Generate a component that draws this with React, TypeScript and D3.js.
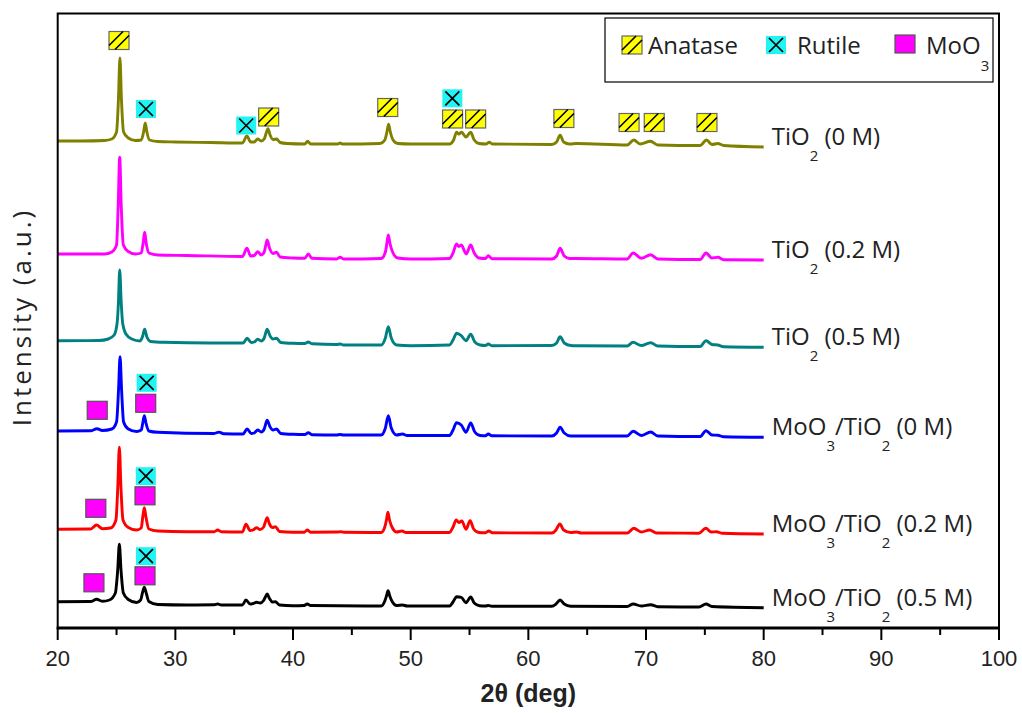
import React from "react";
import * as d3 from "d3";

// ---------- DATA (2θ in degrees, intensity in arbitrary units with stacking offset) ----------
const tio2_0M: [number, number][] = [
  [20, 487], [22, 487], [24, 487.5], [24.6, 489], [25.0, 496], [25.16, 528], [25.29, 570], [25.42, 528], [25.6, 496], [26.0, 490], [26.6, 487.5],
  [27.1, 488], [27.3, 496], [27.44, 505], [27.58, 496], [27.8, 488], [28.5, 486.5], [30, 486], [33, 485.5], [35.7, 485], [36.08, 492], [36.4, 486],
  [36.7, 486], [37.0, 489], [37.3, 487], [37.55, 489], [37.72, 495], [37.87, 499.3], [38.05, 493], [38.3, 488.5], [38.6, 489], [38.9, 485.5],
  [39.5, 484.5], [41.0, 484], [41.24, 486.7], [41.5, 484], [43.8, 484], [44.0, 485], [44.2, 484], [47.4, 484.5], [47.8, 488], [47.98, 496],
  [48.12, 503.7], [48.27, 496], [48.5, 488], [48.9, 484.5], [50, 484], [53.3, 484], [53.65, 488], [53.9, 495.7], [54.1, 494], [54.33, 495.7],
  [54.7, 491], [55.09, 495.7], [55.4, 488], [55.8, 484.5], [56.4, 484], [56.67, 485.7], [56.95, 484], [62.0, 483.5], [62.4, 486], [62.7, 492.7],
  [63.0, 486], [63.5, 484], [64.1, 484.5], [68.4, 483], [68.96, 488], [69.5, 484], [70.38, 486.7], [71, 483], [74.6, 482.5], [75.14, 488],
  [75.6, 483.5], [76.1, 484.5], [76.6, 482.5], [80, 481],
];
const tio2_02M: [number, number][] = [
  [20, 374], [24, 374], [24.6, 376], [25.0, 383], [25.14, 422], [25.27, 470.7], [25.4, 422], [25.58, 383], [26.0, 376.5], [26.6, 374],
  [27.1, 375], [27.26, 385], [27.39, 395.7], [27.52, 385], [27.75, 375], [28.5, 373], [31, 372.5], [35.7, 371.5], [36.08, 379.7], [36.4, 372],
  [36.7, 372.5], [37.0, 376.3], [37.3, 373], [37.55, 376], [37.67, 382], [37.8, 388], [38.0, 380], [38.3, 374.5], [38.6, 375.7], [38.9, 371],
  [40, 370], [41.0, 369.7], [41.3, 374], [41.6, 369.7], [43.7, 369], [44.0, 370.7], [44.3, 369], [47.5, 369.5], [47.85, 376], [47.98, 385],
  [48.1, 393], [48.23, 385], [48.5, 375], [48.9, 370], [50, 369], [53.3, 369.5], [53.6, 375], [53.9, 384], [54.1, 381.5], [54.3, 383],
  [54.72, 374], [55.1, 383], [55.4, 375], [55.8, 370], [56.35, 369.5], [56.6, 372.3], [56.9, 369.3], [62.0, 369], [62.4, 372], [62.7, 379.7],
  [63.05, 372], [63.5, 369.5], [64.1, 369.5], [68.4, 369], [68.9, 375], [69.6, 369.7], [70.4, 373.3], [71, 369], [74.6, 368.5], [75.1, 375],
  [75.6, 370], [76.1, 370.7], [76.6, 368.3], [80, 368],
];
const tio2_05M: [number, number][] = [
  [20, 287.3], [23.5, 287.5], [24.3, 289], [24.8, 293], [25.05, 305], [25.16, 325], [25.27, 358], [25.4, 325], [25.52, 305], [25.8, 294],
  [26.3, 289], [27.0, 287], [27.2, 291], [27.39, 298.7], [27.58, 291], [27.9, 286.5], [29, 285.7], [33, 285], [35.75, 285], [36.1, 289.7],
  [36.45, 285.5], [36.7, 286], [37.0, 288.7], [37.3, 287], [37.55, 290], [37.8, 298.7], [38.05, 292], [38.3, 289], [38.6, 289.7], [38.95, 285.5],
  [40, 284.7], [41.0, 284.5], [41.3, 286], [41.6, 284.3], [43.7, 283.5], [44, 284], [44.3, 283], [47.5, 283], [47.85, 290], [48.1, 301.3],
  [48.35, 290], [48.8, 283], [50, 282.3], [53.3, 283], [53.6, 288], [53.9, 294.7], [54.3, 292.3], [54.7, 287.3], [55.1, 293.7], [55.45, 286],
  [55.9, 283], [56.35, 282.5], [56.6, 284], [56.9, 282.3], [62.0, 282.5], [62.4, 285], [62.7, 291.3], [63.05, 285], [63.6, 282.5], [64.1, 282.3],
  [68.4, 282], [68.9, 285.7], [69.6, 282.5], [70.4, 285.3], [71, 282], [74.6, 281.5], [75.1, 287.3], [75.6, 283.5], [76.1, 283], [76.6, 281.3],
  [80, 280.7],
];
const moo3_0M: [number, number][] = [
  [20, 197], [22.8, 197.2], [23.34, 199.3], [23.8, 197.5], [24.6, 199], [25.0, 206], [25.17, 238], [25.3, 271.3], [25.43, 238], [25.6, 206],
  [26.0, 199], [26.7, 196.5], [27.1, 198], [27.23, 205], [27.36, 212.3], [27.5, 205], [27.75, 197], [28.5, 195.7], [33.3, 194.5], [33.7, 195.9],
  [34.1, 194.3], [35.75, 194], [36.1, 199], [36.45, 194.5], [36.7, 195], [37.0, 198], [37.3, 196], [37.55, 199], [37.8, 207.7], [38.05, 201],
  [38.3, 198], [38.6, 199], [38.95, 194.5], [40, 193.7], [41.0, 193.5], [41.3, 195.3], [41.6, 193.3], [43.7, 193], [44, 193.5], [44.3, 193],
  [47.5, 193], [47.85, 200], [48.1, 212.3], [48.35, 200], [48.8, 193], [49.3, 194], [49.7, 192.5], [53.3, 192.5], [53.6, 198], [53.9, 205.3],
  [54.3, 203], [54.7, 195.7], [55.1, 205], [55.45, 196], [55.9, 192.5], [56.35, 192.3], [56.6, 194], [56.9, 192.2], [62.0, 192], [62.4, 195],
  [62.7, 200.7], [63.05, 195], [63.6, 192], [68.4, 192], [68.9, 196.7], [69.6, 192.5], [70.4, 196], [71, 192], [74.6, 191.5], [75.1, 197.3],
  [75.6, 193], [76.1, 192.8], [76.6, 191.2], [80, 190.7],
];
const moo3_02M: [number, number][] = [
  [20, 98.7], [22.8, 99], [23.3, 103], [23.8, 99.3], [24.5, 100], [24.95, 108], [25.11, 142], [25.24, 180.7], [25.37, 142], [25.55, 108],
  [26.0, 100.5], [26.7, 98], [27.1, 100], [27.23, 111], [27.36, 120.3], [27.5, 111], [27.75, 99], [28.5, 97], [31, 96.3], [33.3, 96.3],
  [33.6, 98], [33.9, 96.3], [35.7, 96], [36.0, 103.7], [36.35, 97.5], [36.6, 98], [36.9, 100.3], [37.2, 98.5], [37.5, 101], [37.65, 106],
  [37.8, 110.3], [38.0, 104], [38.25, 100.5], [38.5, 101.3], [38.85, 96.5], [40, 95.7], [40.95, 95.8], [41.2, 98], [41.5, 95.8], [43.8, 96],
  [44.05, 96.3], [44.3, 95.8], [47.5, 95.5], [47.8, 101], [47.94, 108], [48.06, 115.7], [48.2, 108], [48.45, 100], [48.8, 96], [49.25, 97],
  [49.6, 95.5], [53.3, 95.5], [53.6, 101], [53.87, 108], [54.1, 105.5], [54.35, 107], [54.7, 98.7], [55.05, 107.3], [55.35, 99], [55.8, 95.5],
  [56.35, 95.3], [56.64, 97], [56.95, 95.2], [62.0, 95], [62.35, 98], [62.68, 104], [63.0, 98], [63.6, 95.5], [64.1, 96], [64.5, 95],
  [68.4, 95], [68.96, 99.7], [69.6, 96], [70.3, 98], [70.9, 95], [74.5, 94.8], [75.08, 99.7], [75.55, 96], [75.97, 96.3], [76.5, 94.7],
  [80, 94],
];
const moo3_05M: [number, number][] = [
  [20, 26.3], [22.8, 26.5], [23.3, 28.7], [23.8, 26.7], [24.4, 28], [24.9, 35], [25.1, 58], [25.24, 83.7], [25.38, 58], [25.58, 35],
  [26.0, 28.5], [26.7, 25.5], [27.05, 28], [27.2, 35], [27.36, 40.7], [27.52, 35], [27.75, 26.5], [28.5, 23.5], [31, 23], [33.3, 23.2],
  [33.6, 24], [33.9, 23], [35.7, 23], [36.0, 28], [36.35, 24], [36.6, 24.5], [36.9, 25.7], [37.2, 25], [37.5, 27.5], [37.65, 31], [37.8, 34],
  [38.0, 29.5], [38.25, 26], [38.5, 26.3], [38.85, 23], [40, 22.3], [40.95, 22.5], [41.2, 24], [41.5, 22.5], [47.5, 22], [47.8, 27],
  [47.94, 32], [48.08, 37.3], [48.22, 32], [48.45, 26], [48.8, 22.5], [49.3, 23], [49.7, 22], [53.3, 22], [53.6, 26], [53.9, 31.3],
  [54.3, 30.7], [54.7, 25.3], [55.1, 31], [55.4, 25], [55.85, 22.3], [56.35, 22], [56.6, 22.5], [56.9, 21.8], [62.0, 21.8], [62.35, 24],
  [62.7, 28], [63.05, 24], [63.6, 21.8], [68.4, 21.5], [68.9, 24], [69.6, 22], [70.4, 23.3], [71, 21.3], [74.5, 21], [75.1, 24],
  [75.6, 21.5], [80, 20.3],
];

const seriesNames = ["TiO2 (0 M)", "TiO2 (0.2 M)", "TiO2 (0.5 M)", "MoO3/TiO2 (0 M)", "MoO3/TiO2 (0.2 M)", "MoO3/TiO2 (0.5 M)"];
const seriesColors = ["#808000", "#ff00ff", "#008080", "#0000ff", "#ff0000", "#000000"];
const seriesData = [tio2_0M, tio2_02M, tio2_05M, moo3_0M, moo3_02M, moo3_05M];

// phase markers: [2θ, intensity]
const anataseMarks: [number, number][] = [
  [25.21, 587.5], [37.93, 511], [48.05, 520.5], [53.56, 509], [55.52, 509], [63.02, 509.5], [68.56, 505.5], [70.7, 505.5], [75.18, 505.5],
];
const rutileMarks: [number, number][] = [
  [27.5, 519], [36.02, 502.5], [53.54, 529.7], [27.56, 245.2], [27.49, 151.8], [27.5, 71.8],
];
const mooMarks: [number, number][] = [
  [23.36, 217.7], [27.48, 224.7], [23.24, 119.7], [27.42, 132.2], [23.08, 45.2], [27.42, 52.2],
];

const majorTicks = [20, 30, 40, 50, 60, 70, 80, 90, 100];
const minorTicks = [25, 35, 45, 55, 65, 75, 85, 95];
const xDomain: [number, number] = [20, 100];
const yDomain: [number, number] = [0, 614.5];

// ---------- LAYOUT ----------
const W = 1022, H = 713;
const L = 57.7, R = 999, T = 13.5, B = 628;
const labelFont = "'Open Sans', 'Noto Sans', sans-serif";
const tickFont = "'Liberation Sans Narrow', 'Liberation Sans', 'Arial Narrow', sans-serif";

const MW = 20, MH = 18;

function Anatase({ cx, cy }: { cx: number; cy: number }) {
  const x0 = cx - MW / 2, y0 = cy - MH / 2;
  return (
    <g>
      <rect x={x0} y={y0} width={MW} height={MH} fill="#ffff00" stroke="#666" strokeWidth={1.2} />
      <line x1={x0} y1={y0 + 14} x2={x0 + 14} y2={y0} stroke="#000" strokeWidth={1.6} />
      <line x1={x0 + 6} y1={y0 + MH} x2={x0 + MW} y2={y0 + 4} stroke="#000" strokeWidth={1.6} />
    </g>
  );
}
function Rutile({ cx, cy }: { cx: number; cy: number }) {
  const x0 = cx - MW / 2, y0 = cy - MH / 2;
  return (
    <g>
      <rect x={x0} y={y0} width={MW} height={MH} fill="#22f4f4" />
      <path d={`M${x0 + 3},${y0 + 2} Q${cx},${cy} ${x0 + MW - 3},${y0 + MH - 2} M${x0 + MW - 3},${y0 + 2} Q${cx},${cy} ${x0 + 3},${y0 + MH - 2}`}
        fill="none" stroke="#000" strokeWidth={1.7} />
    </g>
  );
}
function MoO({ cx, cy }: { cx: number; cy: number }) {
  return <rect x={cx - MW / 2} y={cy - MH / 2} width={MW} height={MH} fill="#ff00ff" stroke="#555" strokeWidth={1.2} />;
}

function SeriesLabel({ name, x, y }: { name: string; x: number; y: number }) {
  // split "MoO3/TiO2 (0 M)" into normal text + subscripts
  const parts: { t: string; sub: boolean }[] = [];
  const head = name.split(" (")[0];
  const tail = " (" + name.split(" (")[1];
  const re = /(\d)/g;
  let last = 0;
  let m: RegExpExecArray | null;
  while ((m = re.exec(head)) !== null) {
    parts.push({ t: head.slice(last, m.index), sub: false });
    parts.push({ t: m[1], sub: true });
    last = m.index + 1;
  }
  if (last < head.length) parts.push({ t: head.slice(last), sub: false });
  parts.push({ t: tail, sub: false });
  let prevSub = false;
  return (
    <text x={x} y={y} fontFamily={labelFont} fontSize={24} fill="#222">
      {parts.map((p, i) => {
        const dy = p.sub ? 16 : prevSub ? -16 : 0;
        prevSub = p.sub;
        return (
          <tspan key={i} dy={dy} fontSize={p.sub ? 15 : 24} style={{ whiteSpace: "pre" }}>
            {p.t}
          </tspan>
        );
      })}
    </text>
  );
}

export default function App() {
  const x = d3.scaleLinear().domain(xDomain).range([L, R]);
  const y = d3.scaleLinear().domain(yDomain).range([B, T]);
  const line = d3.line<[number, number]>().x((d) => x(d[0])).y((d) => y(d[1])).curve(d3.curveMonotoneX);

  return (
    <svg width={W} height={H} style={{ position: "absolute", left: 0, top: 0, background: "#fff" }}>
      <rect x={0} y={0} width={W} height={H} fill="#fff" />
      {/* curves */}
      {seriesData.map((s, i) => (
        <path key={i} d={line(s) || ""} fill="none" stroke={seriesColors[i]} strokeWidth={2.9} strokeLinejoin="round" />
      ))}
      {/* labels */}
      {seriesData.map((s, i) => (
        <SeriesLabel key={i} name={seriesNames[i]} x={x(80) + 8} y={y(s[s.length - 1][1]) - 2} />
      ))}
      {/* markers */}
      {anataseMarks.map((d, i) => <Anatase key={"a" + i} cx={x(d[0])} cy={y(d[1])} />)}
      {rutileMarks.map((d, i) => <Rutile key={"r" + i} cx={x(d[0])} cy={y(d[1])} />)}
      {mooMarks.map((d, i) => <MoO key={"m" + i} cx={x(d[0])} cy={y(d[1])} />)}

      {/* frame */}
      <rect x={L} y={T} width={R - L} height={B - T} fill="none" stroke="#000" strokeWidth={2} />
      <line x1={L - 1} x2={R + 1} y1={B} y2={B} stroke="#000" strokeWidth={3} />
      {majorTicks.map((t) => (
        <g key={"M" + t}>
          <line x1={x(t)} x2={x(t)} y1={B} y2={B + 12} stroke="#000" strokeWidth={2} />
          <text x={x(t)} y={666} textAnchor="middle" fontFamily={tickFont} fontSize={22} fill="#222">{t}</text>
        </g>
      ))}
      {minorTicks.map((t) => (
        <line key={"m" + t} x1={x(t)} x2={x(t)} y1={B} y2={B + 7} stroke="#000" strokeWidth={2} />
      ))}
      <text x={(L + R) / 2} y={702} textAnchor="middle" fontFamily={tickFont} fontSize={25} fontWeight="bold" fill="#222">2θ (deg)</text>
      <text transform={`translate(31,317) rotate(-90)`} textAnchor="middle" fontFamily={labelFont} fontSize={26} letterSpacing={3} fill="#222">Intensity (a.u.)</text>

      {/* legend */}
      <rect x={605} y={18} width={388} height={64} fill="#fff" stroke="#000" strokeWidth={1.2} />
      <Anatase cx={632} cy={45} />
      <text x={648} y={54} fontFamily={labelFont} fontSize={24} fill="#222">Anatase</text>
      <Rutile cx={776} cy={45} />
      <text x={797} y={54} fontFamily={labelFont} fontSize={24} fill="#222">Rutile</text>
      <MoO cx={905} cy={44} />
      <text x={926} y={54} fontFamily={labelFont} fontSize={24} fill="#222">
        MoO<tspan dy={17} fontSize={15}>3</tspan>
      </text>
    </svg>
  );
}
